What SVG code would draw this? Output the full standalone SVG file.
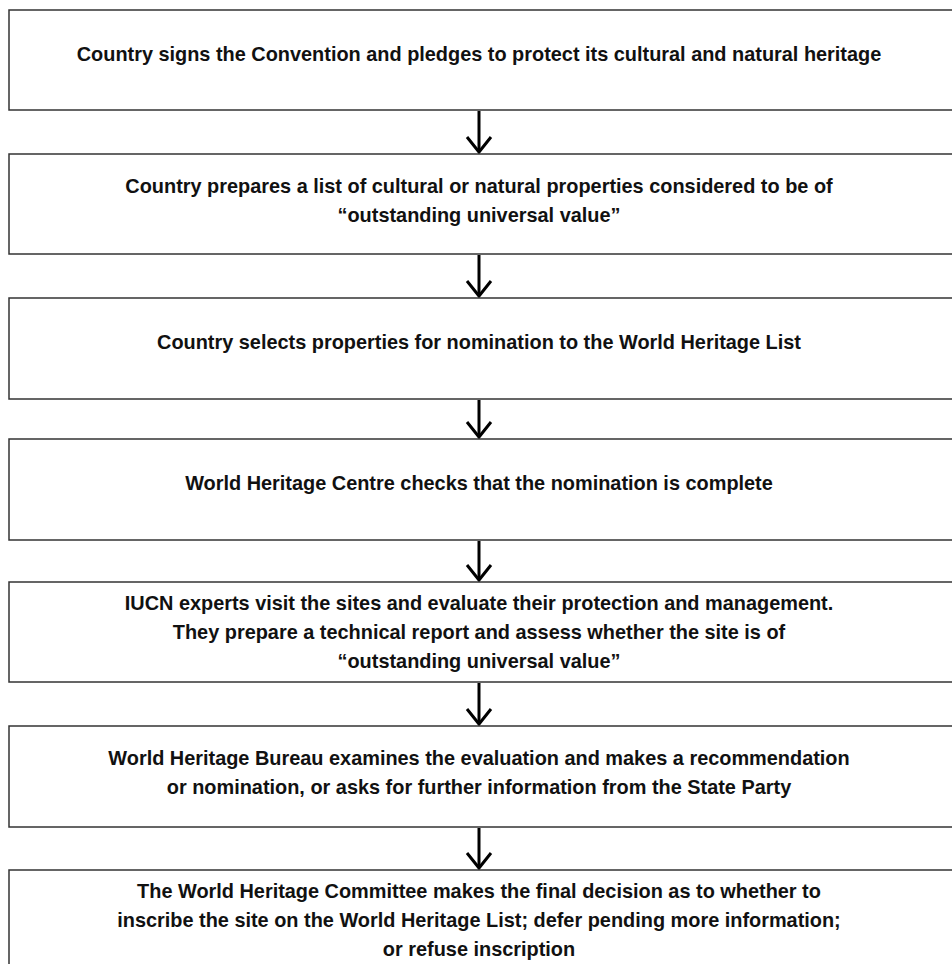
<svg xmlns="http://www.w3.org/2000/svg" width="952" height="964" viewBox="0 0 952 964">
<defs>
<style>
.box{fill:#fff;stroke:#333;stroke-width:1.5}
.t{font-family:"Liberation Sans",Arial,Helvetica,sans-serif;font-weight:bold;font-size:19.9px;fill:#111;text-anchor:middle}
.arr{stroke:#000;stroke-width:3;fill:none}
</style>
<marker id="ah" markerUnits="userSpaceOnUse" markerWidth="30" markerHeight="30" viewBox="-18 -15 20 30" refX="0" refY="0" orient="auto">
<path d="M-15,-12 L0,0 L-15,12" fill="none" stroke="#000" stroke-width="3"/>
</marker>
</defs>
<rect width="952" height="964" fill="#fff"/>
<g id="connectors">
<line class="arr" x1="479" y1="111" x2="479" y2="152" marker-end="url(#ah)"/>
<line class="arr" x1="479" y1="255" x2="479" y2="296" marker-end="url(#ah)"/>
<line class="arr" x1="479" y1="400" x2="479" y2="437" marker-end="url(#ah)"/>
<line class="arr" x1="479" y1="541" x2="479" y2="580" marker-end="url(#ah)"/>
<line class="arr" x1="479" y1="683" x2="479" y2="724" marker-end="url(#ah)"/>
<line class="arr" x1="479" y1="828" x2="479" y2="868" marker-end="url(#ah)"/>
</g>
<g id="node1"><rect class="box" x="9" y="10" width="950" height="100"/>
<text class="t" x="479" y="61">Country signs the Convention and pledges to protect its cultural and natural heritage</text></g>
<g id="node2"><rect class="box" x="9" y="154" width="950" height="100"/>
<text class="t" x="479" y="193">Country prepares a list of cultural or natural properties considered to be of</text>
<text class="t" x="479" y="222">“outstanding universal value”</text></g>
<g id="node3"><rect class="box" x="9" y="298" width="950" height="101"/>
<text class="t" x="479" y="349">Country selects properties for nomination to the World Heritage List</text></g>
<g id="node4"><rect class="box" x="9" y="439" width="950" height="101"/>
<text class="t" x="479" y="490">World Heritage Centre checks that the nomination is complete</text></g>
<g id="node5"><rect class="box" x="9" y="582" width="950" height="100"/>
<text class="t" x="479" y="610">IUCN experts visit the sites and evaluate their protection and management.</text>
<text class="t" x="479" y="639">They prepare a technical report and assess whether the site is of</text>
<text class="t" x="479" y="668">“outstanding universal value”</text></g>
<g id="node6"><rect class="box" x="9" y="726" width="950" height="101"/>
<text class="t" x="479" y="765">World Heritage Bureau examines the evaluation and makes a recommendation</text>
<text class="t" x="479" y="794">or nomination, or asks for further information from the State Party</text></g>
<g id="node7"><rect class="box" x="9" y="870" width="950" height="100"/>
<text class="t" x="479" y="898">The World Heritage Committee makes the final decision as to whether to</text>
<text class="t" x="479" y="927">inscribe the site on the World Heritage List; defer pending more information;</text>
<text class="t" x="479" y="956">or refuse inscription</text></g>
</svg>
